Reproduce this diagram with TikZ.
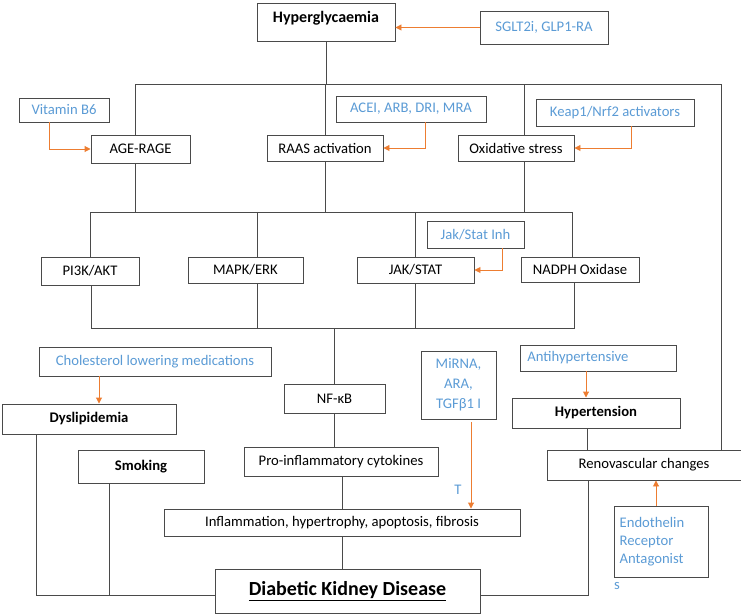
\documentclass[tikz,border=0pt]{standalone}
\usepackage{fontspec}
\setmainfont{Carlito}
\usetikzlibrary{arrows.meta}
\definecolor{bordercol}{HTML}{4A4A4A}
\definecolor{medblue}{HTML}{5B9BD5}
\definecolor{arrorange}{HTML}{ED7D31}
\newcommand\fsz{\fontsize{11}{12}\selectfont}
\newcommand\mkbox[7][]{\node[box,minimum width={(#5-#3)*0.75pt},minimum height={(#6-#4)*0.75pt},#1] (#2) at ({(#3+#5)/2},{(#4+#6)/2}) {#7};}
\begin{document}
\begin{tikzpicture}[x=0.75pt,y=-0.75pt,
  box/.style={draw=bordercol,line width=0.7pt,inner sep=0pt,align=center,font=\fsz,text=black},
  drug/.style={text=medblue},
  ln/.style={draw=bordercol,line width=0.7pt},
  arr/.style={draw=arrorange,line width=0.7pt,-{Triangle[length=4.5pt,width=4.5pt]}}]
\useasboundingbox (0,0) rectangle (741,616);
% boxes
\mkbox[text width=100pt]{hyp}{257}{3}{395}{41}{\raisebox{8pt}{\textbf{\fontsize{12}{13}\selectfont Hyperglycaemia}}}
\mkbox[drug]{sglt}{480}{11}{608}{44}{SGLT2i, GLP1-RA}
\mkbox[drug]{vit}{19}{98}{109}{122}{Vitamin B6}
\mkbox{age}{91}{135}{190}{163}{AGE-RAGE}
\mkbox[drug]{acei}{336}{96}{486}{122}{ACEI, ARB, DRI, MRA}
\mkbox{raas}{267}{135}{383}{161}{RAAS activation}
\mkbox[drug]{keap}{536}{99}{694}{126}{Keap1/Nrf2 activators}
\mkbox{oxi}{458}{135}{574}{161}{Oxidative stress}
\mkbox{pi}{41}{257}{139}{285}{PI3K/AKT}
\mkbox{mapk}{188}{257}{303}{283}{MAPK/ERK}
\mkbox{jak}{357}{257}{474}{283}{JAK/STAT}
\mkbox[drug]{jinh}{427}{221}{524}{248}{Jak/Stat Inh}
\mkbox{nadph}{521}{257}{639}{282}{NADPH Oxidase}
\mkbox[drug]{chol}{39}{347}{271}{376}{Cholesterol lowering medications}
\mkbox[font=\fsz\bfseries]{dys}{2}{404}{176}{434}{Dyslipidemia}
\mkbox{nf}{284}{384}{385}{413}{NF-κB}
\mkbox[drug,align=center,font=\fontsize{11}{15}\selectfont]{mir}{421}{351}{496}{419}{MiRNA,\\ARA,\\TGFβ1 I}
\mkbox[drug,text width=108pt,align=left]{anti}{520}{345}{676}{371}{\hspace*{1pt}Antihypertensive}
\mkbox[font=\fsz\bfseries]{hyt}{512}{398}{680}{428}{Hypertension}
\mkbox{reno}{547}{450}{741}{480}{Renovascular changes}
\mkbox[drug,align=left,text width=64pt,font=\fontsize{11}{13.5}\selectfont]{endo}{614}{506}{708}{577}{\hspace*{1pt}Endothelin\\\hspace*{1pt}Receptor\\\hspace*{1pt}Antagonist}
\mkbox[font=\fsz\bfseries]{smk}{78}{450}{204}{483}{Smoking}
\mkbox{pro}{244}{447}{438}{476}{Pro-inflammatory cytokines}
\mkbox{infl}{164}{509}{520}{536}{Inflammation, hypertrophy, apoptosis, fibrosis}
\mkbox[font=\fontsize{15}{17}\selectfont\bfseries]{dkd}{215}{569}{480}{613}{\underline{Diabetic Kidney Disease}}
\node[font=\fsz,text=medblue,inner sep=0pt] (tlab) at (458,490) {T};
\node[font=\fsz,text=medblue,inner sep=0pt] (slab) at (617,586) {s};
% coordinates
\coordinate (bL) at (135,84); \coordinate (bR) at (721,84);
\coordinate (x524) at (524,0); \coordinate (x257) at (257,0);
\coordinate (cL) at (90,212); \coordinate (cR) at (572,212);
\coordinate (dL) at (91,328); \coordinate (dR) at (574,328);
\coordinate (x36) at (36,0); \coordinate (x109) at (109,0);
\coordinate (x588) at (588,0); \coordinate (x587) at (587,0);
\coordinate (x49) at (49,0); \coordinate (x425) at (425,0);
\coordinate (x631) at (631,0); \coordinate (x502) at (502,0);
\coordinate (x99) at (99,0); \coordinate (x586) at (586,0);
\coordinate (x656) at (656,0); \coordinate (m1) at (471,422);
\coordinate (ddk) at (0,595);
% lines
\draw[ln] (hyp.south) -- (hyp.south |- bL);
\draw[ln] (bL |- age.north) -- (bL) -- (bR) -- (bR |- reno.north);
\draw[ln] (raas.north) -- (raas.north |- bL);
\draw[ln] (x524 |- oxi.north) -- (x524 |- bL);
\draw[ln] (age.south -| bL) -- (bL |- cL);
\draw[ln] (raas.south) -- (raas.south |- cL);
\draw[ln] (x524 |- oxi.south) -- (x524 |- cL);
\draw[ln] (cL |- pi.north) -- (cL) -- (cR) -- (cR |- nadph.north);
\draw[ln] (x257 |- cL) -- (x257 |- mapk.north);
\draw[ln] (jak.north) -- (jak.north |- cL);
\draw[ln] (dL |- pi.south) -- (dL) -- (dR) -- (dR |- nadph.south);
\draw[ln] (x257 |- mapk.south) -- (x257 |- dL);
\draw[ln] (jak.south) -- (jak.south |- dL);
\draw[ln] (nf.north) -- (nf.north |- dL);
\draw[ln] (nf.south) -- (nf.south |- pro.north);
\draw[ln] (infl.north) -- (infl.north |- pro.south);
\draw[ln] (infl.south) -- (infl.south |- dkd.north);
\draw[ln] (x36 |- dys.south) -- (x36 |- ddk) -- (dkd.west |- ddk);
\draw[ln] (x109 |- smk.south) -- (x109 |- ddk);
\draw[ln] (x588 |- reno.south) -- (x588 |- ddk) -- (dkd.east |- ddk);
\draw[ln] (x587 |- hyt.south) -- (x587 |- reno.north);
% arrows
\draw[arr] (sglt.west) -- (sglt.west -| hyp.east);
\draw[arr] (x49 |- vit.south) -- (x49 |- age.west) -- (age.west);
\draw[arr] (x425 |- acei.south) -- (x425 |- raas.east) -- (raas.east);
\draw[arr] (x631 |- keap.south) -- (x631 |- oxi.east) -- (oxi.east);
\draw[arr] (x502 |- jinh.south) -- (x502 |- jak.east) -- (jak.east);
\draw[arr] (x99 |- chol.south) -- (x99 |- dys.north);
\draw[arr] (m1) -- (m1 |- infl.north);
\draw[arr] (x586 |- anti.south) -- (x586 |- hyt.north);
\draw[arr] (x656 |- endo.north) -- (x656 |- reno.south);
\end{tikzpicture}
\end{document}
